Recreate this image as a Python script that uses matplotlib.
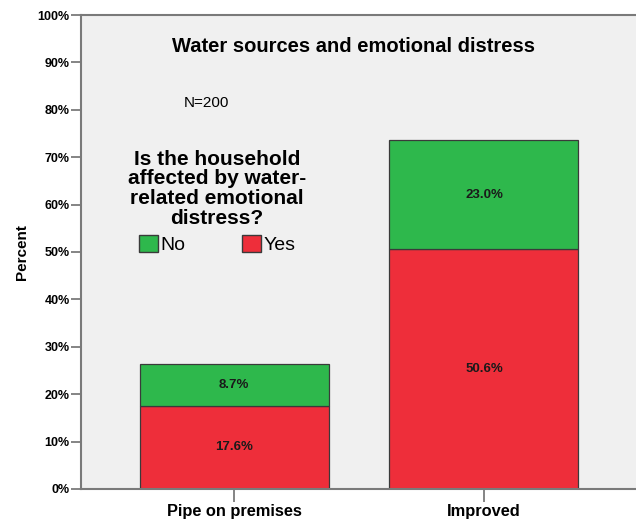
import numpy as np
import matplotlib.pyplot as plt
from matplotlib.patches import Patch
from matplotlib.ticker import PercentFormatter

# household water source vs. emotional distress (percent of N=200)
sources = ["Pipe on premises", "Improved"]
yes_pct = [17.6, 50.6]
no_pct = [8.7, 23.0]

green = "#2eb84c"
red = "#ee2e3a"
edge = "#3a3a3a"
plt.rcParams["font.family"] = ["Liberation Sans", "DejaVu Sans"]

fig = plt.figure(figsize=(6.36, 5.19), dpi=100)
ax = fig.add_axes([0.127, 0.058, 0.873, 0.913])
ax.set_facecolor("#f0f0f0")

x = np.arange(len(sources))
w = 0.757
b1 = ax.bar(x, yes_pct, w, color=red, edgecolor=edge, linewidth=0.9)
b2 = ax.bar(x, no_pct, w, bottom=yes_pct, color=green, edgecolor=edge, linewidth=0.9)

for rects, vals, base in [(b1, yes_pct, [0, 0]), (b2, no_pct, yes_pct)]:
    for r, v, b in zip(rects, vals, base):
        ax.text(r.get_x() + r.get_width() / 2, b + v / 2, f"{v:.1f}%",
                ha="center", va="center", fontsize=9.5, fontweight="bold",
                color="#1a1a1a")

ax.set_xlim(-0.615, 1.609)
ax.set_ylim(0, 100)
ax.set_yticks(np.arange(0, 101, 10))
ax.yaxis.set_major_formatter(PercentFormatter(decimals=0))
ax.set_xticks(x)
ax.set_xticklabels(sources, fontsize=11.8, fontweight="bold")
for lab in ax.get_yticklabels():
    lab.set_fontweight("bold")
    lab.set_fontsize(9)
ax.tick_params(axis="y", length=7, width=1.2, color="#707070", pad=1)
ax.tick_params(axis="x", length=9, width=1.2, color="#707070", pad=2)

for s in ["left", "bottom", "top"]:
    ax.spines[s].set_color("#7a7a7a")
    ax.spines[s].set_linewidth(1.5)
ax.spines["right"].set_visible(False)

ax.set_ylabel("Percent", fontsize=11, fontweight="bold", labelpad=6)

ax.text(353 / 636, 1 - 46 / 519, "Water sources and emotional distress",
        transform=fig.transFigure, ha="center", va="center",
        fontsize=14.5, fontweight="bold")
ax.text(206 / 636, 1 - 103 / 519, "N=200", transform=fig.transFigure,
        ha="center", va="center", fontsize=11)

handles = [Patch(facecolor=green, edgecolor=edge, label="No"),
           Patch(facecolor=red, edgecolor=edge, label="Yes")]
leg = ax.legend(handles=handles, ncol=2, frameon=False,
                title="Is the household\naffected by water-\nrelated emotional\ndistress?",
                title_fontproperties={"weight": "bold", "size": 15},
                fontsize=14, handlelength=1.0, handleheight=0.95,
                handletextpad=0.1, columnspacing=2.9,
                loc="upper center", bbox_to_anchor=(217 / 636, 1 - 140 / 519),
                bbox_transform=fig.transFigure, borderpad=0, labelspacing=0.2)
leg.get_title().set_multialignment("center")
leg.get_title().set_linespacing(1.05)
leg._legend_box.sep = 5

fig.savefig("out.png", dpi=100)
